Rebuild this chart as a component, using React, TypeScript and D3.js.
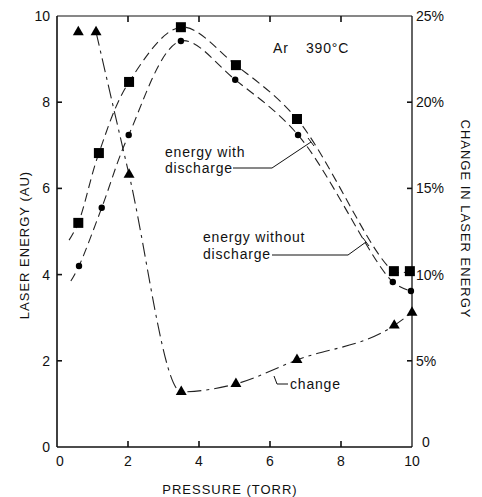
import React from 'react';
import * as d3 from 'd3';

// pressure (torr) for each series
const pressWith = [0.6, 1.18, 2.03, 3.49, 5.04, 6.76, 9.49, 9.94];
const energyWith = [5.2, 6.82, 8.47, 9.74, 8.86, 7.61, 4.08, 4.08];

const pressWithout = [0.62, 1.26, 2.02, 3.49, 5.02, 6.79, 9.46, 9.97];
const energyWithout = [4.2, 5.55, 7.24, 9.42, 8.52, 7.24, 3.83, 3.62];

const pressChange = [0.6, 1.1, 2.03, 3.5, 5.04, 6.76, 9.5, 10.0];
const changePct = [24.07, 24.07, 15.8, 3.2, 3.66, 5.05, 7.05, 7.8];

// where the hand drawn fits start, left of the first point
const fitStartWith = [0.34, 4.8];
const fitStartWithout = [0.39, 3.85];

const xTicks = [0, 2, 4, 6, 8, 10];
const leftTicks = [0, 2, 4, 6, 8, 10];
const rightTicks = [0, 5, 10, 15, 20, 25];

const W = 482;
const H = 497;
const font = "'Liberation Sans', 'DejaVu Sans', sans-serif";

export default function App() {
  const x = d3.scaleLinear().domain([0, 10]).range([57, 412]);
  const yL = d3.scaleLinear().domain([0, 10]).range([447, 16]);
  const yR = d3.scaleLinear().domain([0, 25]).range([447, 16]);

  const energyLine = d3
    .line<number[]>()
    .x(d => x(d[0]))
    .y(d => yL(d[1]))
    .curve(d3.curveCatmullRom.alpha(0.5));

  const changeLine = d3
    .line<number[]>()
    .x(d => x(d[0]))
    .y(d => yR(d[1]))
    .curve(d3.curveMonotoneX);

  const withPts = pressWith.map((p, i) => [p, energyWith[i]]);
  const withoutPts = pressWithout.map((p, i) => [p, energyWithout[i]]);
  const changePts = pressChange.map((p, i) => [p, changePct[i]]);

  const tri = d3.symbol().type(d3.symbolTriangle).size(52)();

  const x0 = x(0), x1 = x(10), y0 = yL(0), y1 = yL(10);

  return (
    <svg width={W} height={H} style={{ position: 'absolute', left: 0, top: 0 }}
      fontFamily={font}>
      <rect width={W} height={H} fill="#fff" />

      {/* frame */}
      <g stroke="#111" strokeWidth={1.6} fill="none">
        <line x1={x0} y1={y0} x2={x1} y2={y0} />
        <line x1={x0} y1={y0} x2={x0} y2={y1} />
        <line x1={x0} y1={y1} x2={x1} y2={y1} strokeWidth={1.2} />
        <line x1={x1} y1={y0} x2={x1} y2={y1} strokeWidth={1.3} />
        {xTicks.slice(1, -1).map(t => (
          <g key={t}>
            <line x1={x(t)} x2={x(t)} y1={y0} y2={y0 - 6} />
            <line x1={x(t)} x2={x(t)} y1={y1} y2={y1 + 6} />
          </g>
        ))}
        {leftTicks.slice(1, -1).map(t => (
          <line key={t} x1={x0} x2={x0 + 5} y1={yL(t)} y2={yL(t)} />
        ))}
        {rightTicks.slice(1, -1).map(t => (
          <line key={t} x1={x1} x2={x1 - 5} y1={yR(t)} y2={yR(t)} />
        ))}
      </g>

      {/* tick labels */}
      <g fontSize={14} fill="#111">
        {xTicks.map(t => (
          <text key={t} x={x(t) + (t === 0 ? 3 : 0)} y={y0 + 19} textAnchor="middle">{t}</text>
        ))}
        {leftTicks.map(t => (
          <text key={t} x={50} y={yL(t) + 5} textAnchor="end">{t}</text>
        ))}
        {rightTicks.map(t => (
          <text key={t} x={t === 0 ? x1 + 10 : x1 + 4} y={yR(t) + (t === 0 ? 0 : 5)}>
            {t === 0 ? '0' : t + '%'}
          </text>
        ))}
      </g>

      {/* axis titles */}
      <g fontSize={13} fill="#111" letterSpacing={1}>
        <text x={230} y={494} textAnchor="middle">PRESSURE (TORR)</text>
        <text transform="translate(29,245) rotate(-90)" textAnchor="middle">LASER ENERGY (AU)</text>
        <text transform="translate(461,219) rotate(90)" textAnchor="middle">CHANGE IN LASER ENERGY</text>
      </g>

      {/* fitted curves */}
      <g fill="none" stroke="#222" strokeWidth={1.1}>
        <path d={energyLine([fitStartWith, ...withPts]) || ''} strokeDasharray="9,5" />
        <path d={energyLine([fitStartWithout, ...withoutPts]) || ''} strokeDasharray="9,5" />
        <path d={changeLine(changePts.slice(1)) || ''} strokeDasharray="14,5,3,5" />
      </g>

      {/* markers */}
      <g fill="#000">
        {withPts.map((d, i) => (
          <rect key={i} x={x(d[0]) - 5} y={yL(d[1]) - 5} width={10} height={10} />
        ))}
        {withoutPts.map((d, i) => (
          <circle key={i} cx={x(d[0])} cy={yL(d[1])} r={3.2} />
        ))}
        {changePts.map((d, i) => (
          <path key={i} d={tri || ''} transform={`translate(${x(d[0])},${yR(d[1])})`} />
        ))}
      </g>

      {/* annotations */}
      <g fontSize={14} fill="#111" letterSpacing={0.8}>
        <text x={273} y={53}>Ar</text>
        <text x={306} y={53}>390°C</text>
        <text x={165} y={157}>energy with</text>
        <text x={165} y={173}>discharge</text>
        <text x={203} y={242}>energy without</text>
        <text x={203} y={259}>discharge</text>
        <text x={290} y={389}>change</text>
      </g>
      <g fill="none" stroke="#111" strokeWidth={1}>
        <path d="M233,168 L272,168 L311,142" />
        <path d="M308,138 L314,146" />
        <path d="M272,255 L348,255 L366,242" />
        <path d="M363,238 L369,246" />
        <path d="M274,376 L277,384 L288,384" />
      </g>
    </svg>
  );
}
